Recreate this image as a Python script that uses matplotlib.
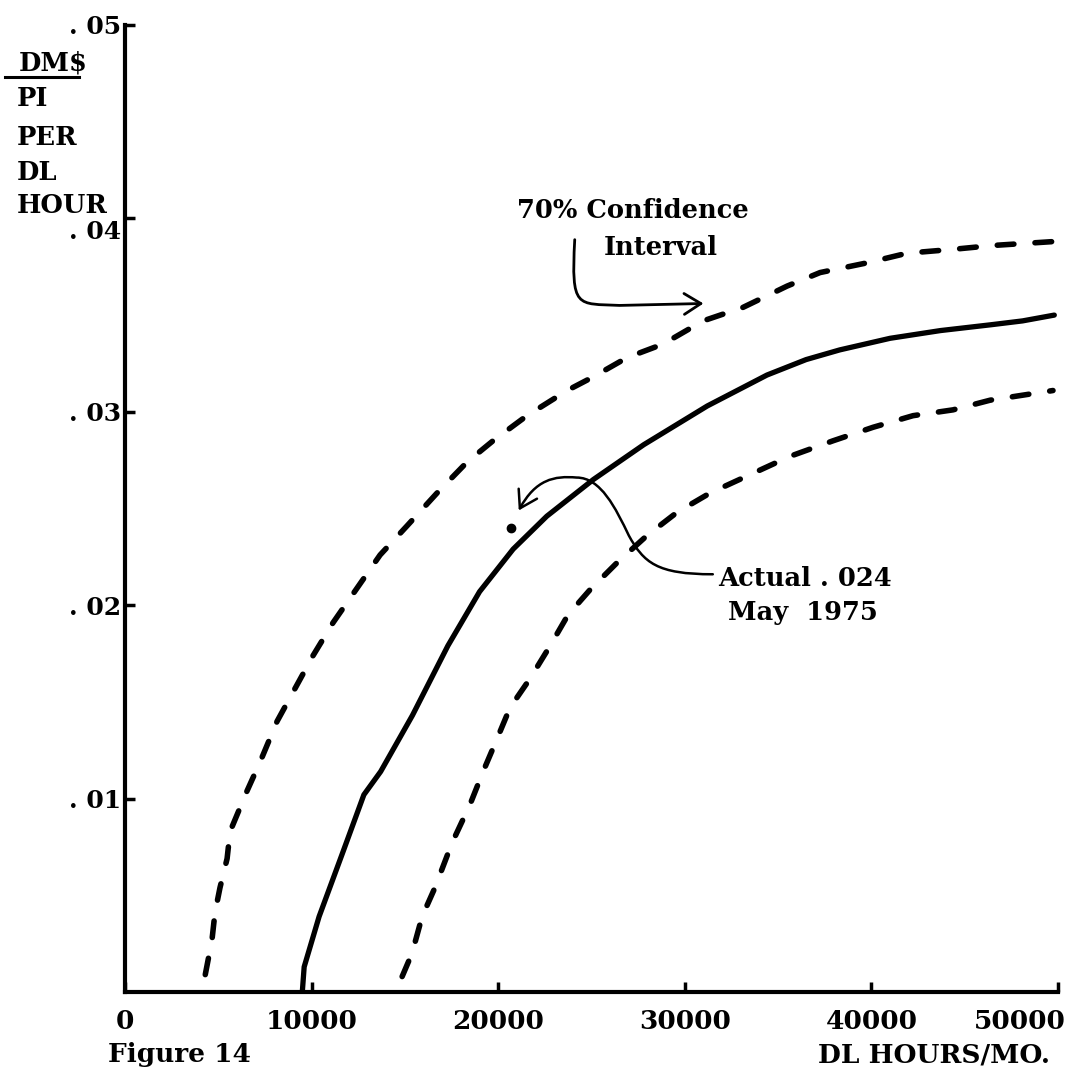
import matplotlib
matplotlib.use("Agg")
import matplotlib.pyplot as plt
from matplotlib.patches import FancyArrowPatch
from matplotlib.path import Path
from matplotlib.transforms import ScaledTranslation

# Expected cost curve (solid) in DM$/PI per DL hour vs DL hours per month
mid_x = [9500, 9600, 10400, 11700, 12800, 13700, 15400, 17300, 19000, 20800,
         22600, 25100, 27800, 31200, 33000, 34400, 36500, 38300, 41000, 43700,
         46400, 48100, 49800]
mid_y = [0.0, 0.0013, 0.0039, 0.0073, 0.0102, 0.0114, 0.0143, 0.0179, 0.0207, 0.0229,
         0.0246, 0.0265, 0.0283, 0.0303, 0.0312, 0.0319, 0.0327, 0.0332, 0.0338, 0.0342,
         0.0345, 0.0347, 0.0350]

# Upper bound of the 70% confidence interval
upper_x = [4300, 4660, 4820, 5090, 5470, 5630, 6540, 7240, 8150, 9000, 10080, 11150,
           13670, 15110, 16720, 18330, 19720, 21540, 23690, 25080, 26900, 28830,
           30980, 33120, 35480, 37250, 39760, 41910, 44370, 46520, 49730]
upper_y = [0.0009, 0.0027, 0.0041, 0.0054, 0.0069, 0.0083, 0.0104, 0.0119, 0.0140,
           0.0155, 0.0174, 0.0191, 0.0226, 0.0241, 0.0258, 0.0274, 0.0285, 0.0298,
           0.0311, 0.0318, 0.0328, 0.0335, 0.0347, 0.0354, 0.0365, 0.0372, 0.0377,
           0.0382, 0.0384, 0.0386, 0.0388]

# Lower bound of the 70% confidence interval
lower_x = [14850, 15380, 15920, 16610, 17520, 18490, 19190, 19940, 20630, 21700,
           22780, 23740, 24920, 26370, 27970, 29580, 31350, 35640, 37940, 40090,
           42230, 44370, 46360, 49730]
lower_y = [0.0008, 0.0020, 0.0039, 0.0054, 0.0077, 0.0097, 0.0114, 0.0131, 0.0147,
           0.0162, 0.0179, 0.0195, 0.0208, 0.0222, 0.0236, 0.0248, 0.0258, 0.0277,
           0.0285, 0.0292, 0.0298, 0.0301, 0.0306, 0.0311]

# Observed value, May 1975
actual_x = [20700]
actual_y = [0.024]

x_ticks = [0, 10000, 20000, 30000, 40000, 50000]
x_tick_labels = ["0", "10000", "20000", "30000", "40000", "50000"]
y_ticks = [0.01, 0.02, 0.03, 0.04, 0.05]
y_tick_labels = [". 01", ". 02", ". 03", ". 04", ". 05"]

FONT = "DejaVu Serif"
plt.rcParams["font.family"] = [FONT, "DejaVu Sans"]
plt.rcParams["font.weight"] = "bold"

fig = plt.figure(figsize=(10.76, 10.72), dpi=100)
ax = fig.add_axes([0.1162, 0.0746, 0.8671, 0.9021])
ax.set_xlim(0, 50000)
ax.set_ylim(0, 0.05)

for side in ("top", "right"):
    ax.spines[side].set_visible(False)
for side in ("left", "bottom"):
    ax.spines[side].set_linewidth(3)
    ax.spines[side].set_color("black")

ax.set_xticks(x_ticks)
ax.set_xticklabels(x_tick_labels, fontsize=19, fontweight="bold")
ax.set_yticks(y_ticks)
ax.set_yticklabels(y_tick_labels, fontsize=18, fontweight="bold")
ax.tick_params(axis="both", direction="in", length=7, width=2.5, color="black")
ax.tick_params(axis="x", pad=12)
ax.tick_params(axis="y", pad=3)
# last x label sits against the page edge
last = ax.get_xticklabels()[-1]
last.set_horizontalalignment("right")
last.set_transform(last.get_transform() + ScaledTranslation(0.08, 0, fig.dpi_scale_trans))
# the .04 label is set a little below its tick, clear of the unit label
y04 = ax.get_yticklabels()[3]
y04.set_transform(y04.get_transform() + ScaledTranslation(0, -0.11, fig.dpi_scale_trans))

ax.plot(mid_x, mid_y, color="black", lw=3.8, solid_capstyle="round",
        solid_joinstyle="round")
dash = (0, (3.0, 3.8))
ax.plot(upper_x, upper_y, color="black", lw=4.0, linestyle=dash,
        dash_capstyle="round")
ax.plot(lower_x, lower_y, color="black", lw=4.0, linestyle=dash,
        dash_capstyle="round")
ax.plot(actual_x, actual_y, "o", color="black", ms=6)

# Confidence interval callout
ax.text(27200, 0.0404, "70% Confidence", ha="center", va="center",
        fontsize=18.5, fontweight="bold")
ax.text(28700, 0.0385, "Interval", ha="center", va="center",
        fontsize=18.5, fontweight="bold")
ci_path = Path([(24100, 0.0389), (23900, 0.0353), (24200, 0.0356),
                (26500, 0.0355), (31000, 0.0356)],
               [Path.MOVETO, Path.CURVE4, Path.CURVE4, Path.CURVE4, Path.LINETO])
ax.add_patch(FancyArrowPatch(path=ci_path, arrowstyle="->,head_length=8,head_width=5",
                             color="black", lw=2, mutation_scale=1.5))

# Actual value callout
ax.text(31800, 0.0214, "Actual . 024", ha="left", va="center",
        fontsize=18.5, fontweight="bold")
ax.text(32300, 0.0196, "May  1975", ha="left", va="center",
        fontsize=18.5, fontweight="bold")
act_path = Path([(31500, 0.0216), (28500, 0.0216), (27800, 0.0222), (27000, 0.0236),
                 (26300, 0.0250), (25500, 0.0266), (24200, 0.0266),
                 (23000, 0.0267), (22000, 0.0265), (21100, 0.0249)],
                [Path.MOVETO, Path.CURVE4, Path.CURVE4, Path.CURVE4,
                 Path.CURVE4, Path.CURVE4, Path.CURVE4,
                 Path.CURVE4, Path.CURVE4, Path.CURVE4])
ax.add_patch(FancyArrowPatch(path=act_path, arrowstyle="->,head_length=8,head_width=5",
                             color="black", lw=1.8, mutation_scale=1.5))

# Stacked y-axis unit label
fig.text(0.049, 0.941, "DM$", ha="center", va="center", fontsize=18.5, fontweight="bold")
fig.add_artist(plt.Line2D([0.005, 0.073], [0.928, 0.928], color="black", lw=2.2,
                          transform=fig.transFigure))
for label, yy in (("PI", 0.908), ("PER", 0.872), ("DL", 0.839), ("HOUR", 0.808)):
    fig.text(0.016, yy, label, ha="left", va="center", fontsize=18.5, fontweight="bold")

fig.text(0.100, 0.016, "Figure 14", ha="left", va="center", fontsize=19, fontweight="bold")
fig.text(0.976, 0.016, "DL HOURS/MO.", ha="right", va="center", fontsize=19,
         fontweight="bold")

fig.savefig("out.png", dpi=100, facecolor="white")
